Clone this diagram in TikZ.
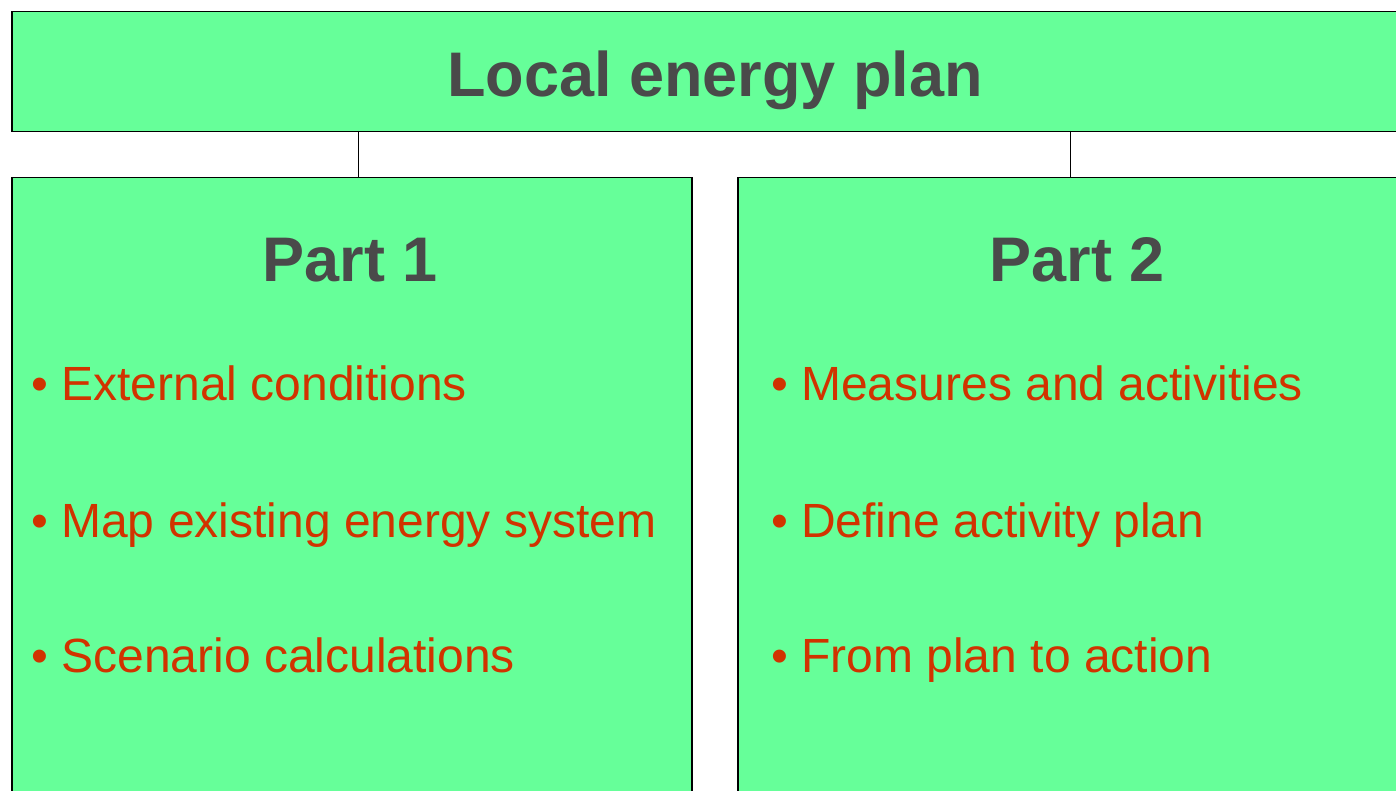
\documentclass[tikz,border=0pt]{standalone}
\usepackage{fontspec}
\setmainfont{Liberation Sans}
\definecolor{boxgreen}{HTML}{66FF99}
\definecolor{itemred}{HTML}{D13300}
\definecolor{titlegray}{HTML}{4A4A4A}
\begin{document}
\begin{tikzpicture}[x=1pt,y=-1pt,
  box/.style={draw=black,line width=1.5pt,fill=boxgreen,inner sep=0pt,anchor=north west},
  titletext/.style={font=\fontsize{63}{68}\selectfont\bfseries,text=titlegray,anchor=base},
  item/.style={font=\fontsize{48}{52}\selectfont,text=itemred,anchor=base west,inner sep=0pt},
  link/.style={draw=black,line width=1pt}]
\useasboundingbox (0,0) rectangle (1396,791);
\clip (0,0) rectangle (1396,791);
\node[box,minimum width=1420pt,minimum height=120pt] (top) at (11,11) {};
\node[box,minimum width=680pt,minimum height=700pt] (p1) at (11,177) {};
\node[box,minimum width=700pt,minimum height=700pt] (p2) at (737,177) {};
\coordinate (t1) at (358,131);
\coordinate (t2) at (1070,131);
\draw[link] (t1) -- (t1 |- p1.north);
\draw[link] (t2) -- (t2 |- p2.north);
\node[titletext] (tt) at (715,97) {Local energy plan};
\node[titletext] (pt1) at (350,282) {Part 1};
\node[titletext] (pt2) at (1077,282) {Part 2};
\node[item] (a1) at (31,400) {• External conditions};
\node[item] (a2) at (31,537) {• Map existing energy system};
\node[item] (a3) at (31,672) {• Scenario calculations};
\node[item] (b1) at (771,400) {• Measures and activities};
\node[item] (b2) at (771,537) {• Define activity plan};
\node[item] (b3) at (771,672) {• From plan to action};
\end{tikzpicture}
\end{document}
